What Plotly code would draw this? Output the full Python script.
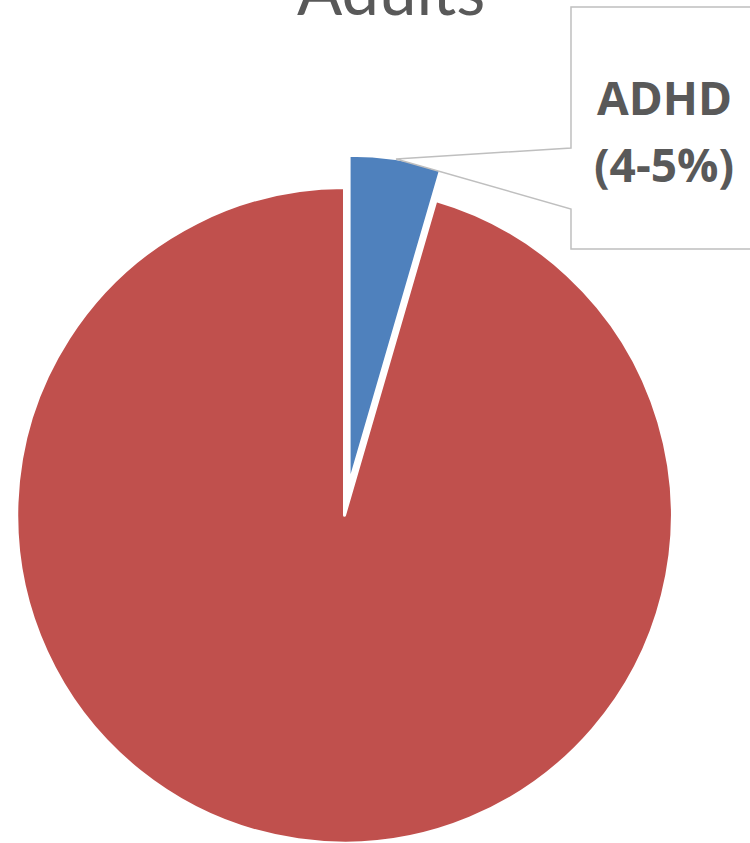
import math
import plotly.graph_objects as go

# ---- data ----
labels = ["ADHD", "No ADHD"]
values = [4.5, 95.5]
colors = ["#4F81BD", "#C0504D"]
title_text = "Adults"
label_lines = ["ADHD", "(4-5%)"]

# ---- layout geometry (pixels) ----
W, H = 750, 843
cx, cy, r = 344.5, 517.0, 329.5      # pie centre (from top) and domain half-size
pull = 0.1                            # exploded fraction for first slice

def domain(cx_px, cy_px):
    x0 = (cx_px - r) / W
    x1 = (cx_px + r) / W
    yb = H - cy_px
    y0 = max(0.0, (yb - r) / H)
    y1 = (yb + r) / H
    return dict(x=[x0, x1], y=[y0, y1])

mid = math.radians(360 * values[0] / sum(values) / 2)
dx = pull * 326 * math.sin(mid)
dy = pull * 326 * math.cos(mid)

fig = go.Figure()
# base pie: all but the exploded slice
fig.add_trace(go.Pie(
    labels=labels, values=values, sort=False, direction="clockwise", rotation=0,
    marker=dict(colors=["rgba(0,0,0,0)", colors[1]],
                line=dict(color="white", width=[0, 3])),
    textinfo="none", hoverinfo="skip", showlegend=False,
    domain=domain(cx, cy),
))
# exploded slice
fig.add_trace(go.Pie(
    labels=labels, values=values, sort=False, direction="clockwise", rotation=0,
    marker=dict(colors=[colors[0], "rgba(0,0,0,0)"],
                line=dict(color="white", width=[3, 0])),
    textinfo="none", hoverinfo="skip", showlegend=False,
    domain=domain(cx + dx, cy - dy),
))

def px(x, y):
    return f"{x / W:.5f},{1 - y / H:.5f}"

# callout box with pointer
path = ("M " + px(571, 7) + " L " + px(780, 7) + " L " + px(780, 249) +
        " L " + px(571, 249) + " L " + px(571, 209) + " L " + px(396, 159) +
        " L " + px(571, 148) + " Z")
fig.add_shape(type="path", path=path, xref="paper", yref="paper",
              line=dict(color="#BFBFBF", width=1.5), fillcolor="white", layer="above")

for txt, ymid in zip(label_lines, [97, 164]):
    fig.add_annotation(text="<b>" + txt + "</b>", x=664 / W, y=1 - ymid / H,
                       xref="paper", yref="paper", showarrow=False,
                       xanchor="center", yanchor="middle",
                       font=dict(family="Open Sans", size=46, color="#595959"))

fig.add_annotation(text=title_text, x=391 / W, y=1 - 31 / H,
                   xref="paper", yref="paper", showarrow=False,
                   xanchor="center", yanchor="bottom",
                   font=dict(family="Lato", size=67, color="#595959"))

fig.update_layout(width=W, height=H, margin=dict(l=0, r=0, t=0, b=0),
                  paper_bgcolor="white", plot_bgcolor="white", showlegend=False)

fig.write_html("out.html")
